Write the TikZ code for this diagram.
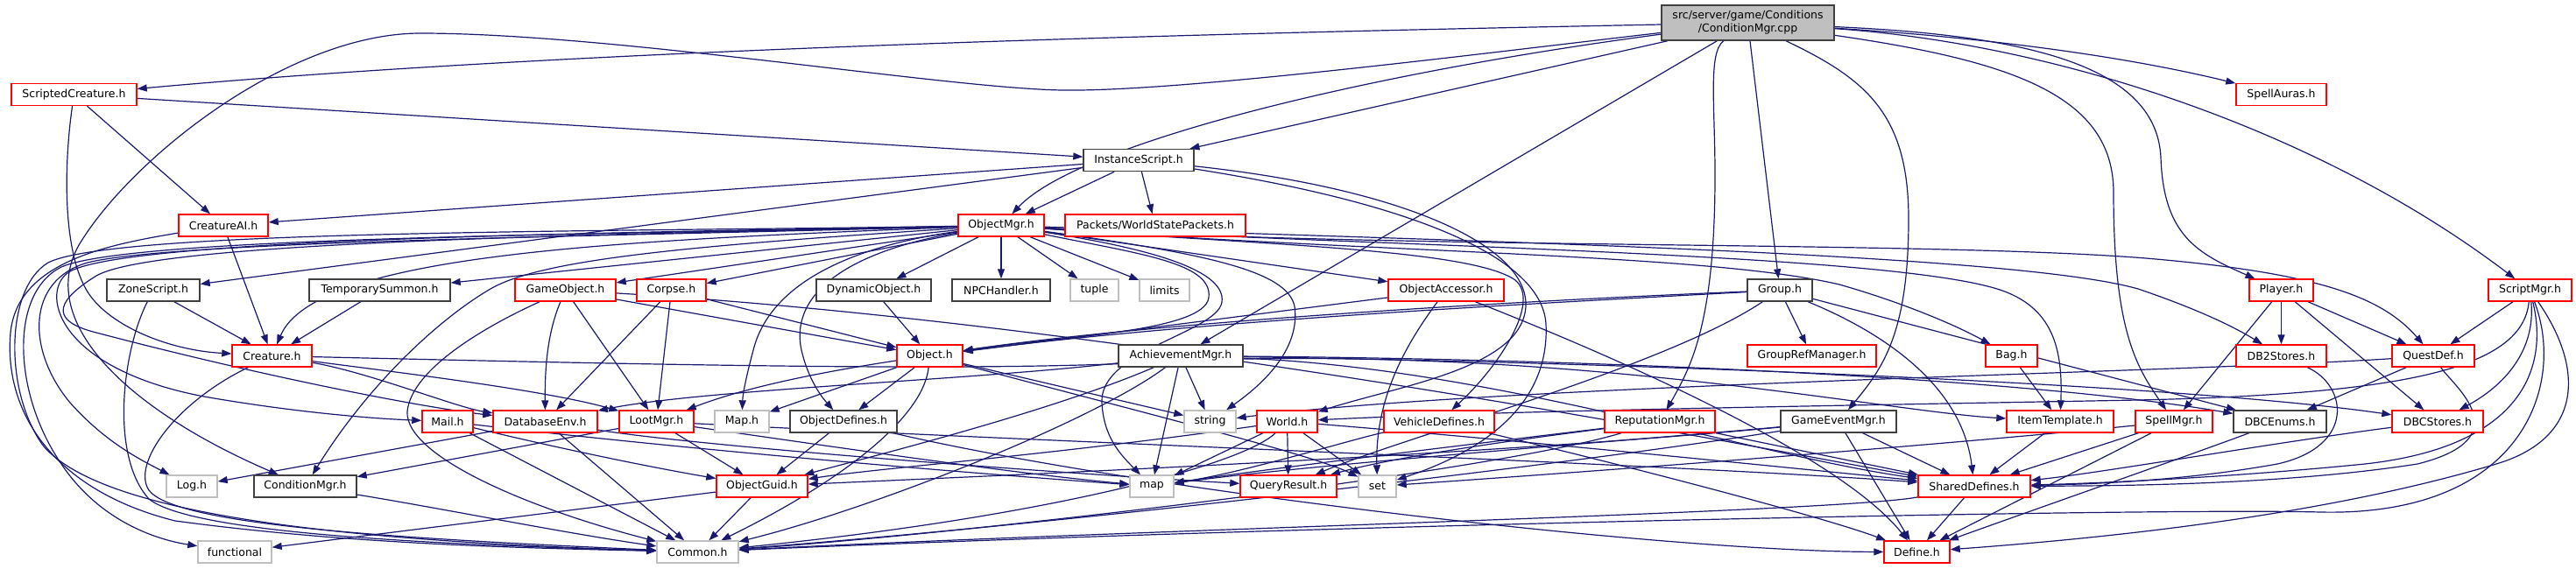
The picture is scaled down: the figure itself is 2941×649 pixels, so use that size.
\documentclass[tikz,border=0pt]{standalone}
\usepackage{fontspec}
\setmainfont{DejaVu Sans}
\usetikzlibrary{arrows.meta}
\pgfdeclarelayer{bg}
\pgfsetlayers{bg,main}
\definecolor{eblue}{HTML}{191970}
\definecolor{dg}{HTML}{404040}
\definecolor{lg}{HTML}{BFBFBF}
\begin{document}
\begin{tikzpicture}[x=1pt,y=-1pt,
  nd/.style={draw, line width=1.4pt, fill=white, inner sep=0pt, minimum height=25pt,
    font=\fontsize{12.5}{15}\selectfont, text=black},
  rb/.style={nd, draw=red},
  bb/.style={nd, draw=dg},
  gb/.style={nd, draw=lg},
  e/.style={draw=eblue, line width=1.2pt, -{Triangle[length=11pt,width=8pt]}}]
\useasboundingbox (0,0) rectangle (2941,649);
% nodes
\node[bb, fill=lg, minimum width=197pt, minimum height=40pt, align=center] (R) at (1995.5,26) {src/server/game/Conditions\\/ConditionMgr.cpp};
\node[rb, minimum width=143pt] (SC) at (84.5,108) {ScriptedCreature.h};
\node[rb, minimum width=103pt] (SA) at (2604.5,108) {SpellAuras.h};
\node[bb, minimum width=126pt] (IS) at (1300,183) {InstanceScript.h};
\node[rb, minimum width=102pt] (CAI) at (255,257.5) {CreatureAI.h};
\node[rb, minimum width=98pt] (OM) at (1143,257.5) {ObjectMgr.h};
\node[rb, minimum width=206pt] (WSP) at (1319,257.5) {Packets/WorldStatePackets.h};
\node[bb, minimum width=106pt] (ZS) at (175,331.5) {ZoneScript.h};
\node[bb, minimum width=161pt] (TS) at (433.5,331.5) {TemporarySummon.h};
\node[rb, minimum width=115pt] (GO) at (645.5,331.5) {GameObject.h};
\node[rb, minimum width=79pt] (CO) at (766.5,331.5) {Corpse.h};
\node[bb, minimum width=131pt] (DYN) at (997.5,331.5) {DynamicObject.h};
\node[bb, minimum width=112pt] (NPC) at (1143,331.5) {NPCHandler.h};
\node[gb, minimum width=55pt] (TUP) at (1249.5,331.5) {tuple};
\node[gb, minimum width=57pt] (LIM) at (1329.5,331.5) {limits};
\node[rb, minimum width=132pt] (OA) at (1651,331.5) {ObjectAccessor.h};
\node[bb, minimum width=74pt] (GRP) at (2032,331.5) {Group.h};
\node[rb, minimum width=73pt] (PL) at (2604.5,331.5) {Player.h};
\node[rb, minimum width=95pt] (SCM) at (2888.5,331.5) {ScriptMgr.h};
\node[rb, minimum width=91pt] (CRE) at (310.5,406.5) {Creature.h};
\node[rb, minimum width=75pt] (OBJ) at (1061.5,406.5) {Object.h};
\node[bb, minimum width=142pt] (AM) at (1348,406.5) {AchievementMgr.h};
\node[rb, minimum width=147pt] (GRM) at (2068.5,406.5) {GroupRefManager.h};
\node[rb, minimum width=59pt] (BAG) at (2296.5,406.5) {Bag.h};
\node[rb, minimum width=103pt] (DB2) at (2604.5,406.5) {DB2Stores.h};
\node[rb, minimum width=94pt] (QD) at (2778,406.5) {QuestDef.h};
\node[rb, minimum width=58pt] (MAIL) at (511,481.5) {Mail.h};
\node[rb, minimum width=119pt] (DBE) at (622.5,481.5) {DatabaseEnv.h};
\node[rb, minimum width=85pt] (LOOT) at (749.5,481.5) {LootMgr.h};
\node[gb, minimum width=62pt] (MAPH) at (847,481.5) {Map.h};
\node[bb, minimum width=122pt] (ODEF) at (963,481.5) {ObjectDefines.h};
\node[gb, minimum width=59pt] (STR) at (1381.5,481.5) {string};
\node[rb, minimum width=69pt] (WLD) at (1469.5,481.5) {World.h};
\node[rb, minimum width=126pt] (VEH) at (1643,481.5) {VehicleDefines.h};
\node[rb, minimum width=126pt] (REP) at (1895,481.5) {ReputationMgr.h};
\node[bb, minimum width=132pt] (GEM) at (2099,481.5) {GameEventMgr.h};
\node[rb, minimum width=122pt] (ITT) at (2352,481.5) {ItemTemplate.h};
\node[rb, minimum width=88pt] (SPM) at (2482,481.5) {SpellMgr.h};
\node[bb, minimum width=106pt] (DBCE) at (2603,481.5) {DBCEnums.h};
\node[rb, minimum width=104pt] (DBCS) at (2783,481.5) {DBCStores.h};
\node[gb, minimum width=58pt] (LOG) at (219,555.5) {Log.h};
\node[bb, minimum width=117pt] (CMH) at (348.5,555.5) {ConditionMgr.h};
\node[rb, minimum width=104pt] (OG) at (870,555.5) {ObjectGuid.h};
\node[gb, minimum width=50pt] (MAP) at (1315,555.5) {map};
\node[rb, minimum width=110pt] (QR) at (1471,555.5) {QueryResult.h};
\node[gb, minimum width=43pt] (SET) at (1572.5,555.5) {set};
\node[rb, minimum width=128pt] (SD) at (2254,555.5) {SharedDefines.h};
\node[gb, minimum width=84pt] (FUNC) at (268,630.5) {functional};
\node[gb, minimum width=93pt] (COM) at (796.5,630.5) {Common.h};
\node[rb, minimum width=75pt] (DEF) at (2188.5,630.5) {Define.h};
\begin{pgfonlayer}{bg}
% root
\draw[e] (R) .. controls (1500,36) and (700,52) .. (SC);
\draw[e] (R) .. controls (1700,60) and (1350,105) .. (1213,103) .. controls (1080,101) and (700,38) .. (480,38) .. controls (330,38) and (150,180) .. (90,280) .. controls (40,370) and (150,470) .. (CMH);
\draw[e] (R) .. controls (1550,85) and (1230,165) .. (OM);
\draw[e] (R) -- (IS);
\draw[e] (R) -- (AM);
\draw[e] (R) -- (GRP);
\draw[e] (R) .. controls (2130,90) and (2179,130) .. (2179,250) .. controls (2179,380) and (2150,420) .. (GEM);
\draw[e] (R) .. controls (1950,60) and (1958,120) .. (1958,200) .. controls (1958,370) and (1930,420) .. (REP);
\draw[e] (R) .. controls (2300,70) and (2413,110) .. (2413,220) .. controls (2413,380) and (2440,420) .. (SPM);
\draw[e] (R) .. controls (2300,40) and (2462,70) .. (2467,180) .. controls (2470,270) and (2510,290) .. (PL);
\draw[e] (R) .. controls (2300,45) and (2450,70) .. (SA);
\draw[e] (R) .. controls (2350,50) and (2650,150) .. (SCM);
% ScriptedCreature
\draw[e] (SC) -- (IS);
\draw[e] (SC) -- (CAI);
\draw[e] (SC) .. controls (74,180) and (70,280) .. (98,330) .. controls (120,370) and (190,400) .. (CRE);
% InstanceScript
\draw[e] (IS) -- (OM);
\draw[e] (IS) -- (WSP);
\draw[e] (IS) -- (CAI);
\draw[e] (IS) -- (ZS);
\draw[e] (IS) .. controls (1600,215) and (1745,280) .. (1742,350) .. controls (1738,420) and (1600,440) .. (WLD);
\draw[e] (IS) .. controls (1600,230) and (1760,290) .. (1765,370) .. controls (1770,470) and (1680,520) .. (SET);
% CreatureAI
\draw[e] (CAI) -- (CRE);
\draw[e] (CAI) .. controls (120,280) and (20,300) .. (12,380) .. controls (4,470) and (60,560) .. (200,595) .. controls (400,622) and (600,626) .. (COM);
% ObjectMgr
\draw[e] (OM) -- (TS);
\draw[e] (OM) -- (GO);
\draw[e] (OM) -- (CO);
\draw[e] (OM) -- (DYN);
\draw[e] (OM) -- (NPC);
\draw[e] (OM) -- (TUP);
\draw[e] (OM) -- (LIM);
\draw[e] (OM) -- (OA);
\draw[e] (OM) .. controls (700,275) and (360,290) .. (CRE);
\draw[e] (OM) .. controls (1300,290) and (1385,300) .. (1380,340) .. controls (1375,380) and (1200,385) .. (OBJ);
\draw[e] (OM) .. controls (1320,285) and (1400,310) .. (1395,345) .. controls (1390,380) and (1255,400) .. (1258,460) .. controls (1260,500) and (1280,520) .. (MAP);
\draw[e] (OM) .. controls (1380,290) and (1470,310) .. (1478,350) .. controls (1485,400) and (1440,440) .. (STR);
\draw[e] (OM) .. controls (1600,285) and (2200,275) .. (2450,295) .. controls (2650,312) and (2720,340) .. (QD);
\draw[e] (OM) .. controls (1600,290) and (1950,290) .. (2100,325) .. controls (2170,345) and (2230,370) .. (BAG);
\draw[e] (OM) .. controls (1600,282) and (2150,290) .. (2280,330) .. controls (2345,350) and (2355,400) .. (ITT);
\draw[e] (OM) .. controls (1700,276) and (2300,290) .. (2441,330) .. controls (2500,350) and (2545,370) .. (DB2);
\draw[e] (OM) .. controls (1450,280) and (1680,285) .. (1730,320) .. controls (1760,345) and (1710,420) .. (VEH);
\draw[e] (OM) .. controls (700,270) and (200,275) .. (100,300) .. controls (30,320) and (30,400) .. (80,460) .. controls (120,505) and (160,525) .. (LOG);
\draw[e] (OM) .. controls (700,268) and (150,270) .. (70,305) .. controls (10,335) and (15,450) .. (70,530) .. controls (110,590) and (170,615) .. (FUNC);
\draw[e] (OM) .. controls (700,265) and (130,262) .. (55,300) .. controls (5,330) and (5,450) .. (50,510) .. controls (120,590) and (400,618) .. (COM);
\draw[e] (OM) .. controls (800,280) and (620,295) .. (560,330) .. controls (500,365) and (420,440) .. (CMH);
\draw[e] (OM) .. controls (700,268) and (180,275) .. (110,315) .. controls (70,340) and (50,365) .. (110,380) .. controls (300,430) and (480,465) .. (DBE);
\draw[e] (OM) .. controls (700,266) and (150,272) .. (80,310) .. controls (45,330) and (60,420) .. (233,453) .. controls (330,470) and (420,478) .. (MAIL);
\draw[e] (OM) .. controls (980,280) and (880,320) .. (860,400) .. controls (852,430) and (848,450) .. (MAPH);
\draw[e] (OM) .. controls (980,285) and (900,330) .. (915,400) .. controls (922,430) and (935,450) .. (ODEF);
% ZoneScript, TemporarySummon
\draw[e] (ZS) -- (CRE);
\draw[e] (ZS) .. controls (140,400) and (125,520) .. (170,570) .. controls (220,610) and (500,622) .. (COM);
\draw[e] (TS) -- (CRE);
% GameObject
\draw[e] (GO) -- (OBJ);
\draw[e] (GO) .. controls (625,380) and (622,420) .. (DBE);
\draw[e] (GO) -- (LOOT);
\draw[e] (GO) .. controls (560,370) and (470,420) .. (465,470) .. controls (462,520) and (600,580) .. (COM);
\draw[e] (GO) .. controls (1300,370) and (2050,520) .. (SD);
% Corpse, DynamicObject
\draw[e] (CO) -- (OBJ);
\draw[e] (CO) -- (DBE);
\draw[e] (CO) -- (LOOT);
\draw[e] (DYN) -- (OBJ);
% ObjectAccessor
\draw[e] (OA) -- (OBJ);
\draw[e] (OA) .. controls (1600,400) and (1570,460) .. (SET);
\draw[e] (OA) .. controls (1850,410) and (2100,520) .. (DEF);
% Group
\draw[e] (GRP) .. controls (1700,345) and (1300,370) .. (OBJ);
\draw[e] (GRP) .. controls (1600,355) and (1000,385) .. (LOOT);
\draw[e] (GRP) -- (GRM);
\draw[e] (GRP) .. controls (1900,420) and (1600,500) .. (QR);
\draw[e] (GRP) .. controls (2150,380) and (2240,440) .. (SD);
\draw[e] (GRP) -- (DBCE);
% Player
\draw[e] (PL) -- (DB2);
\draw[e] (PL) -- (SPM);
\draw[e] (PL) -- (QD);
\draw[e] (PL) -- (DBCS);
% ScriptMgr
\draw[e] (SCM) -- (QD);
\draw[e] (SCM) .. controls (2895,400) and (2860,440) .. (DBCS);
\draw[e] (SCM) .. controls (2880,420) and (2750,450) .. (2441,457) .. controls (2000,465) and (1700,470) .. (WLD);
\draw[e] (SCM) .. controls (2910,420) and (2880,510) .. (2700,530) .. controls (2550,545) and (2400,552) .. (SD);
\draw[e] (SCM) .. controls (2950,420) and (2950,500) .. (2850,530) .. controls (2650,590) and (2400,615) .. (DEF);
\draw[e] (SCM) .. controls (2930,440) and (2880,590) .. (2650,585) .. controls (2450,580) and (1500,600) .. (COM);
% DB2Stores, QuestDef, DBC
\draw[e] (DB2) .. controls (2680,440) and (2690,510) .. (2600,530) .. controls (2500,548) and (2400,553) .. (SD);
\draw[e] (QD) .. controls (2500,425) and (1700,440) .. (STR);
\draw[e] (QD) -- (DBCE);
\draw[e] (QD) .. controls (2800,440) and (2880,500) .. (2760,530) .. controls (2600,555) and (2400,555) .. (SD);
\draw[e] (DBCS) .. controls (2600,505) and (2400,540) .. (SD);
\draw[e] (DBCE) .. controls (2500,520) and (2300,590) .. (DEF);
% SpellMgr, ItemTemplate, Bag
\draw[e] (SPM) -- (SD);
\draw[e] (SPM) -- (DEF);
\draw[e] (SPM) .. controls (2200,510) and (1800,540) .. (SET);
\draw[e] (ITT) -- (SD);
\draw[e] (BAG) -- (ITT);
% GameEventMgr
\draw[e] (GEM) -- (SD);
\draw[e] (GEM) -- (DEF);
\draw[e] (GEM) .. controls (1900,500) and (1500,530) .. (MAP);
\draw[e] (GEM) .. controls (1800,530) and (1200,600) .. (COM);
\draw[e] (GEM) .. controls (1700,520) and (1100,545) .. (OG);
% ReputationMgr
\draw[e] (REP) -- (SD);
\draw[e] (REP) .. controls (1700,505) and (1450,535) .. (MAP);
\draw[e] (REP) .. controls (1750,500) and (1600,520) .. (QR);
\draw[e] (REP) .. controls (1700,540) and (1100,610) .. (COM);
% VehicleDefines
\draw[e] (VEH) .. controls (1550,500) and (1420,540) .. (MAP);
\draw[e] (VEH) .. controls (1850,530) and (2080,590) .. (DEF);
% World
\draw[e] (WLD) -- (QR);
\draw[e] (WLD) -- (MAP);
\draw[e] (WLD) -- (SET);
\draw[e] (WLD) .. controls (1200,520) and (1000,535) .. (OG);
\draw[e] (WLD) .. controls (1420,530) and (1200,590) .. (COM);
\draw[e] (WLD) .. controls (1700,500) and (2000,530) .. (SD);
% AchievementMgr
\draw[e] (AM) -- (STR);
\draw[e] (AM) -- (MAP);
\draw[e] (AM) .. controls (1100,435) and (800,445) .. (DBE);
\draw[e] (AM) .. controls (1200,470) and (1000,520) .. (OG);
\draw[e] (AM) .. controls (1250,480) and (1000,580) .. (COM);
\draw[e] (AM) .. controls (1800,410) and (2300,430) .. (DBCE);
\draw[e] (AM) .. controls (1900,415) and (2500,440) .. (DBCS);
\draw[e] (AM) .. controls (1700,420) and (2000,520) .. (SD);
% Object
\draw[e] (OBJ) -- (ODEF);
\draw[e] (OBJ) .. controls (1055,470) and (980,540) .. (COM);
\draw[e] (OBJ) -- (STR);
\draw[e] (OBJ) .. controls (1300,470) and (1500,520) .. (SET);
\draw[e] (OBJ) -- (MAPH);
% Mail, DatabaseEnv, LootMgr, ObjectDefines
\draw[e] (MAIL) -- (COM);
\draw[e] (MAIL) .. controls (650,515) and (750,535) .. (OG);
\draw[e] (MAIL) .. controls (800,515) and (1100,540) .. (MAP);
\draw[e] (DBE) -- (LOG);
\draw[e] (DBE) -- (COM);
\draw[e] (DBE) .. controls (800,510) and (1200,540) .. (QR);
\draw[e] (LOOT) -- (CMH);
\draw[e] (LOOT) -- (OG);
\draw[e] (LOOT) .. controls (1200,505) and (1900,530) .. (SD);
\draw[e] (LOOT) .. controls (950,510) and (1150,540) .. (MAP);
\draw[e] (ODEF) -- (OG);
\draw[e] (ODEF) .. controls (1300,560) and (1900,630) .. (DEF);
% ObjectGuid, ConditionMgr.h, SharedDefines
\draw[e] (OG) -- (COM);
\draw[e] (OG) -- (FUNC);
\draw[e] (CMH) .. controls (500,580) and (650,610) .. (COM);
\draw[e] (SD) -- (DEF);
\draw[e] (SD) .. controls (2100,585) and (1300,605) .. (COM);
% Creature
\draw[e] (CRE) .. controls (200,460) and (150,530) .. (170,560) .. controls (200,600) and (450,615) .. (COM);
\draw[e] (CRE) .. controls (420,425) and (520,465) .. (DBE);
\draw[e] (CRE) .. controls (450,425) and (620,445) .. (LOOT);
\draw[e] (CRE) .. controls (800,418) and (1150,425) .. (1350,412) .. controls (1800,395) and (2150,470) .. (ITT);
\end{pgfonlayer}
\end{tikzpicture}
\end{document}
